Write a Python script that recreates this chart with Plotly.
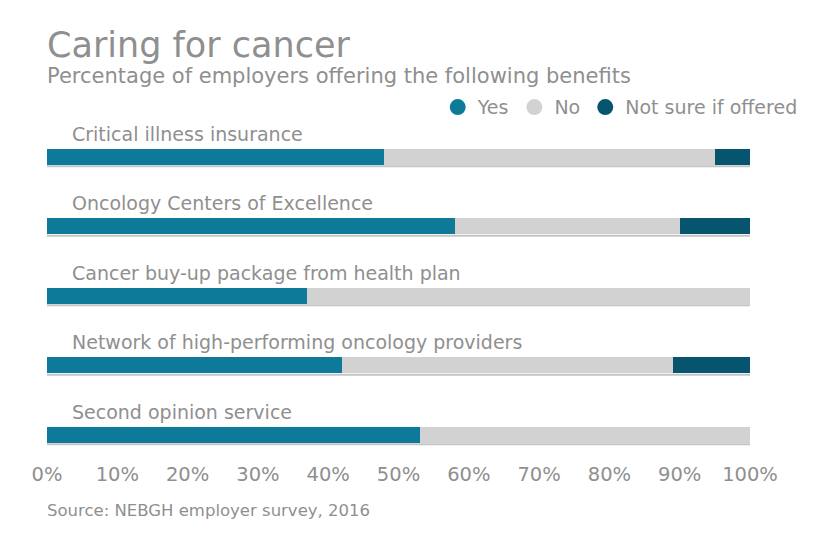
import plotly.graph_objects as go

categories = [
    "Critical illness insurance",
    "Oncology Centers of Excellence",
    "Cancer buy-up package from health plan",
    "Network of high-performing oncology providers",
    "Second opinion service",
]
yes_vals = [48, 58, 37, 42, 53]
no_vals = [47, 32, 63, 47, 47]
notsure_vals = [5, 10, 0, 11, 0]
series_names = ["Yes", "No", "Not sure if offered"]
tick_vals = [0, 10, 20, 30, 40, 50, 60, 70, 80, 90, 100]
tick_text = [f"{v}%" for v in tick_vals]

colors = ["#0e7a99", "#d3d2d3", "#07546f"]
text_color = "#8f8f8f"
font_family = "DejaVu Sans"

idx = list(range(len(categories)))
bar_width = 0.23

fig = go.Figure()
for name, vals, col in zip(series_names, [yes_vals, no_vals, notsure_vals], colors):
    fig.add_trace(go.Bar(
        x=vals, y=idx, orientation="h", name=name,
        marker=dict(color=col, line=dict(width=0)),
        width=bar_width, showlegend=False, hoverinfo="x+name",
    ))
    fig.add_trace(go.Scatter(
        x=[None], y=[None], mode="markers", name=name,
        marker=dict(symbol="circle", size=16, color=col),
    ))

shapes = []
annotations = []
for i, cat in enumerate(categories):
    total = yes_vals[i] + no_vals[i] + notsure_vals[i]
    shapes.append(dict(
        type="line", xref="x", yref="y", x0=0, x1=total,
        y0=i + bar_width / 2 + 0.02, y1=i + bar_width / 2 + 0.02,
        line=dict(color="#c4c4c4", width=2),
    ))
    annotations.append(dict(
        x=0.0356, xref="paper", y=i, yref="y", text=cat, showarrow=False,
        xanchor="left", yanchor="middle", yshift=23, xshift=-2,
        font=dict(family=font_family, size=19, color=text_color),
    ))

annotations.append(dict(
    x=0, xref="paper", xanchor="left", y=1.153, yref="paper", yanchor="middle",
    text="Caring for cancer", showarrow=False, xshift=-2,
    font=dict(family=font_family, size=35, color=text_color)))
annotations.append(dict(
    x=0, xref="paper", xanchor="left", y=1.067, yref="paper", yanchor="middle",
    text="Percentage of employers offering the following benefits", showarrow=False, xshift=-2,
    font=dict(family=font_family, size=21, color=text_color)))
annotations.append(dict(
    x=0, xref="paper", xanchor="left", y=-0.139, yref="paper", yanchor="middle",
    text="Source: NEBGH employer survey, 2016", showarrow=False, xshift=-2,
    font=dict(family=font_family, size=16.5, color=text_color)))

fig.update_layout(
    width=840, height=547,
    margin=dict(l=39, r=98, t=92, b=95),
    paper_bgcolor="white", plot_bgcolor="white",
    barmode="stack", bargap=0,
    font=dict(family=font_family, color=text_color),
    xaxis=dict(range=[0, 100], tickvals=tick_vals, ticktext=tick_text,
               showgrid=False, zeroline=False, showline=False,
               tickfont=dict(size=19.5, color=text_color), fixedrange=True),
    yaxis=dict(range=[4.36, -0.82], showticklabels=False, showgrid=False,
               zeroline=False, showline=False, fixedrange=True),
    legend=dict(orientation="h", x=1.075, xanchor="right", y=0.98, yanchor="middle",
                traceorder="normal",
                font=dict(size=19, color=text_color), itemclick=False,
                bgcolor="rgba(0,0,0,0)"),
    shapes=shapes,
    annotations=annotations,
)

fig.write_html("out.html")
